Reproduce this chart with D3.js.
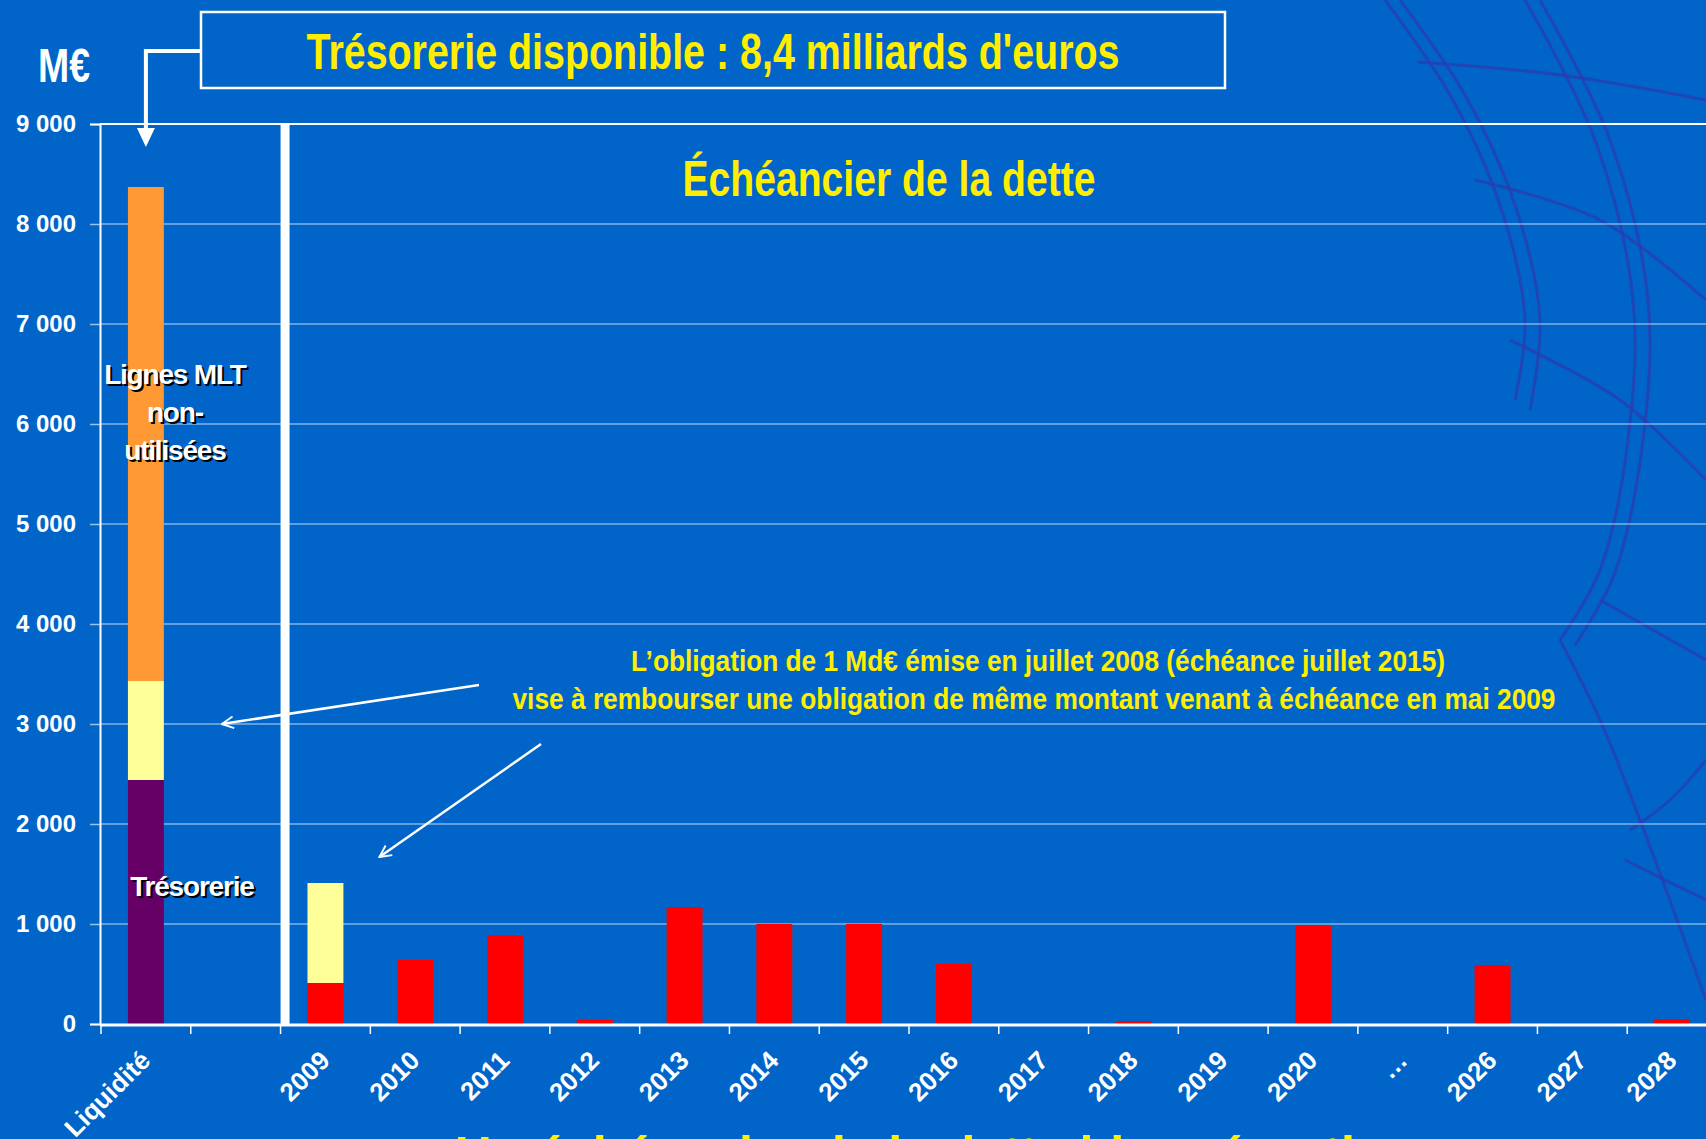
<!DOCTYPE html>
<html>
<head>
<meta charset="utf-8">
<title>Échéancier de la dette</title>
<script src="https://cdn.jsdelivr.net/npm/d3@7"></script>
<style>
  html, body { margin: 0; padding: 0; background: #0064c8; overflow: hidden; }
  svg { display: block; }
  .narrow { font-family: "Liberation Sans", Arial, sans-serif; font-weight: bold; }
  .lab { font-family: "Liberation Sans", Arial, sans-serif; font-weight: bold; }
</style>
</head>
<body>
<div id="chart"></div>
<script>
  // categories on the x axis (second one is an empty spacer slot)
  var categories = ['Liquidité', ' ', '2009', '2010', '2011', '2012', '2013', '2014', '2015',
                    '2016', '2017', '2018', '2019', '2020', '…', '2026', '2027', '2028'];
  var tickLabels = ['Liquidité', '', '2009', '2010', '2011', '2012', '2013', '2014', '2015',
                    '2016', '2017', '2018', '2019', '2020', '…', '2026', '2027', '2028'];

  // M€
  var tresorerie = [2440, 0, 0, 0, 0, 0, 0, 0, 0, 0, 0, 0, 0, 0, 0, 0, 0, 0];
  var echeances  = [0, 0, 410, 640, 890, 40, 1170, 1000, 1000, 600, 0, 30, 0, 990, 0, 590, 0, 50];
  var obligation = [990, 0, 1000, 0, 0, 0, 0, 0, 0, 0, 0, 0, 0, 0, 0, 0, 0, 0];
  var lignesMLT  = [4940, 0, 0, 0, 0, 0, 0, 0, 0, 0, 0, 0, 0, 0, 0, 0, 0, 0];

  var yTicks = [0, 1000, 2000, 3000, 4000, 5000, 6000, 7000, 8000, 9000];

  var W = 1706, H = 1139;
  var bg = '#0064c8', yellow = '#ffee00';
  var colors = { tresorerie: '#660066', echeances: '#ff0000', obligation: '#ffff99', lignesMLT: '#ff9933' };

  var svg = d3.select('#chart').append('svg')
    .attr('width', W)
    .attr('height', H);

  svg.append('rect').attr('width', W).attr('height', H).attr('fill', bg);

  // faint watermark drawing in the top right corner
  var wm = svg.append('g')
    .attr('fill', 'none')
    .attr('stroke', '#2a3cb0')
    .attr('stroke-opacity', 0.75)
    .attr('stroke-width', 3);
  var curve = d3.line().curve(d3.curveCatmullRom);
  var strokes = [
    [[1385, 0], [1450, 95], [1500, 205], [1525, 320], [1515, 400]],
    [[1400, 0], [1465, 95], [1515, 205], [1540, 320], [1530, 410]],
    [[1525, 0], [1595, 140], [1633, 300], [1628, 440], [1600, 570], [1560, 640]],
    [[1540, 0], [1610, 140], [1648, 300], [1643, 440], [1614, 575], [1575, 645]],
    [[1418, 62], [1560, 75], [1706, 100]],
    [[1475, 180], [1600, 220], [1706, 300]],
    [[1510, 340], [1620, 400], [1706, 480]],
    [[1560, 640], [1600, 720], [1640, 820], [1706, 1000]],
    [[1600, 600], [1706, 660]],
    [[1630, 830], [1670, 800], [1706, 760]],
    [[1625, 860], [1665, 880], [1706, 900]]
  ];
  wm.selectAll('path')
    .data(strokes)
    .enter().append('path')
    .attr('d', curve);

  var x = d3.scaleBand()
    .domain(categories)
    .range([101, 1717])
    .paddingInner(0.6)
    .paddingOuter(0.3);

  var y = d3.scaleLinear()
    .domain([0, 9000])
    .range([1024, 124]);

  var step = x.step();
  var edge = function(c) { return x(c) - step * 0.3; };

  // gridlines
  svg.append('g').selectAll('line')
    .data(yTicks.slice(1, -1))
    .enter().append('line')
    .attr('x1', 100).attr('x2', W)
    .attr('y1', function(d) { return y(d); })
    .attr('y2', function(d) { return y(d); })
    .attr('stroke', '#ffffff').attr('stroke-opacity', 0.5).attr('stroke-width', 1.5);

  // top frame
  svg.append('line')
    .attr('x1', 100).attr('x2', W)
    .attr('y1', y(9000)).attr('y2', y(9000))
    .attr('stroke', '#fff').attr('stroke-width', 2);

  // y axis
  var yAxis = d3.axisLeft(y)
    .tickValues(yTicks)
    .tickSize(10)
    .tickPadding(14)
    .tickFormat(function(d) { return d3.format(',')(d).replace(',', ' '); });

  var gy = svg.append('g')
    .attr('transform', 'translate(100,0)')
    .call(yAxis);
  gy.select('.domain').attr('stroke', '#fff').attr('stroke-width', 2);
  gy.selectAll('.tick line').attr('stroke', '#ffffff').attr('stroke-opacity', 0.6).attr('stroke-width', 1.5);
  gy.selectAll('.tick text')
    .attr('class', 'lab')
    .attr('fill', '#fff')
    .style('font-size', '24px');

  // stacked bars
  var keys = ['tresorerie', 'echeances', 'obligation', 'lignesMLT'];
  var rows = categories.map(function(c, i) {
    return { cat: c, tresorerie: tresorerie[i], echeances: echeances[i], obligation: obligation[i], lignesMLT: lignesMLT[i] };
  });
  var series = d3.stack().keys(keys)(rows);

  svg.append('g').selectAll('g')
    .data(series)
    .enter().append('g')
    .attr('fill', function(s) { return colors[s.key]; })
    .selectAll('rect')
    .data(function(s) { return s.filter(function(d) { return d[1] > d[0]; }); })
    .enter().append('rect')
    .attr('x', function(d) { return x(d.data.cat); })
    .attr('width', x.bandwidth())
    .attr('y', function(d) { return y(d[1]); })
    .attr('height', function(d) { return y(d[0]) - y(d[1]); });

  // x axis line and ticks at band edges
  svg.append('line')
    .attr('x1', 100).attr('x2', W)
    .attr('y1', y(0) + 1).attr('y2', y(0) + 1)
    .attr('stroke', '#fff').attr('stroke-width', 3);

  var bounds = categories.map(edge);
  svg.append('g').selectAll('line')
    .data(bounds)
    .enter().append('line')
    .attr('x1', function(d) { return d; }).attr('x2', function(d) { return d; })
    .attr('y1', y(0)).attr('y2', y(0) + 10)
    .attr('stroke', '#fff').attr('stroke-width', 1.5);

  svg.append('g').selectAll('text')
    .data(categories)
    .enter().append('text')
    .attr('class', 'lab')
    .attr('fill', '#fff')
    .style('font-size', '26px')
    .attr('text-anchor', 'end')
    .attr('transform', function(d) {
      return 'translate(' + (x(d) + x.bandwidth() / 2 + 6) + ',' + (y(0) + 38) + ') rotate(-45)';
    })
    .text(function(d, i) { return tickLabels[i]; });

  // separator between liquidity and debt schedule
  svg.append('rect')
    .attr('x', edge('2009'))
    .attr('y', y(9000))
    .attr('width', 9)
    .attr('height', y(0) - y(9000))
    .attr('fill', '#fff');

  // condensed bold text helper
  function narrowText(txt, tx, ty, size, len, color) {
    return svg.append('text')
      .attr('class', 'narrow')
      .attr('x', tx).attr('y', ty)
      .attr('text-anchor', 'middle')
      .attr('fill', color)
      .style('font-size', size + 'px')
      .attr('textLength', len)
      .attr('lengthAdjust', 'spacingAndGlyphs')
      .text(txt);
  }

  // unit
  narrowText('M€', 64, 82, 48, 52, '#fff');

  // title box with connector arrow
  svg.append('rect')
    .attr('x', 201).attr('y', 12)
    .attr('width', 1024).attr('height', 76)
    .attr('fill', 'none')
    .attr('stroke', '#fff').attr('stroke-width', 2.5);

  narrowText("Trésorerie disponible : 8,4 milliards d'euros", 713, 69, 50, 813, yellow);

  var cx = x('Liquidité') + x.bandwidth() / 2;
  svg.append('path')
    .attr('d', 'M201,51H' + cx + 'V130')
    .attr('fill', 'none')
    .attr('stroke', '#fff').attr('stroke-width', 4);
  svg.append('path')
    .attr('d', 'M' + (cx - 9) + ',128L' + (cx + 9) + ',128L' + cx + ',147Z')
    .attr('fill', '#fff');

  narrowText('Échéancier de la dette', 889, 196, 50, 413, yellow);

  // labels inside the liquidity bar (white with black shadow)
  function shadowText(txt, tx, ty) {
    [['#000', 2], ['#fff', 0]].forEach(function(p) {
      svg.append('text')
        .attr('class', 'lab')
        .attr('x', tx + p[1]).attr('y', ty + p[1])
        .attr('text-anchor', 'middle')
        .attr('fill', p[0])
        .style('font-size', '28px')
        .style('letter-spacing', '-1.2px')
        .text(txt);
    });
  }
  shadowText('Lignes MLT', cx + 29, y(6400));
  shadowText('non-', cx + 29, y(6020));
  shadowText('utilisées', cx + 29, y(5640));
  shadowText('Trésorerie', cx + 46, y(1280));

  // annotation
  narrowText('L’obligation de 1 Md€ émise en juillet 2008 (échéance juillet 2015)', 1038, 671, 29, 814, yellow);
  narrowText('vise à rembourser une obligation de même montant venant à échéance en mai 2009', 1034, 709, 29, 1043, yellow);

  svg.append('defs').append('marker')
    .attr('id', 'open')
    .attr('viewBox', '0 0 12 12')
    .attr('refX', 11).attr('refY', 6)
    .attr('markerWidth', 14).attr('markerHeight', 14)
    .attr('markerUnits', 'userSpaceOnUse')
    .attr('orient', 'auto')
    .append('path')
    .attr('d', 'M1,1L11,6L1,11')
    .attr('fill', 'none')
    .attr('stroke', '#fff').attr('stroke-width', 1.6);

  svg.append('line')
    .attr('x1', 479).attr('y1', 685)
    .attr('x2', x('Liquidité') + x.bandwidth() + 58).attr('y2', y(3000))
    .attr('stroke', '#fff').attr('stroke-width', 2.5)
    .attr('marker-end', 'url(#open)');
  svg.append('line')
    .attr('x1', 541).attr('y1', 744)
    .attr('x2', x('2009') + x.bandwidth() + 36).attr('y2', y(1670))
    .attr('stroke', '#fff').attr('stroke-width', 2.5)
    .attr('marker-end', 'url(#open)');

  // bottom caption, cut by the page edge
  narrowText('Un échéancier de la dette bien réparti', 905, 1175, 56, 900, yellow);
</script>
</body>
</html>
